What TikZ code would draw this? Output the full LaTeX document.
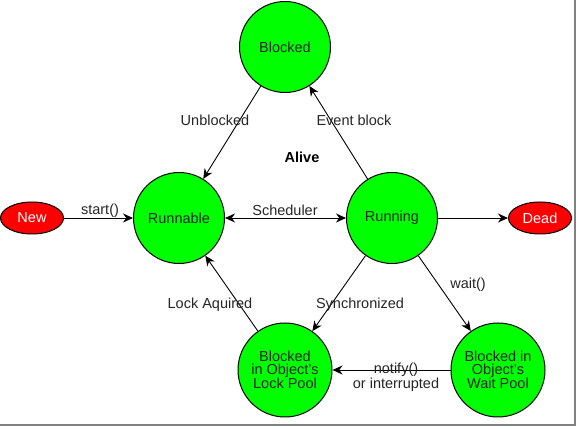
\documentclass[tikz,border=0pt]{standalone}
\usepackage{fontspec}
\setmainfont{Liberation Sans}
\usetikzlibrary{arrows.meta,shapes.geometric}
\begin{document}
\begin{tikzpicture}[x=1pt,y=-1pt,
  every node/.style={font=\fontsize{14.5}{13}\selectfont},
  state/.style={circle,draw=black,line width=1pt,fill=green,minimum size=91pt,inner sep=0pt,align=center,text=black!85},
  endstate/.style={ellipse,draw=black,line width=1pt,fill=red,minimum width=63pt,minimum height=32pt,inner sep=0pt,text=white},
  conn/.style={draw=black,line width=0.9pt,-{Stealth[length=10pt,width=9pt]}},
  lbl/.style={fill=none,text=black!85,inner sep=1pt}]
\useasboundingbox (0,0) rectangle (579,430);
\fill[white] (0,0) rectangle (579,430);
\draw[gray,line width=1.5pt] (575,0) -- (575,425) -- (0,425);
\node[state] (blocked) at (285,47) {Blocked};
\node[state] (runnable) at (179,218) {Runnable};
\node[state] (running) at (392,218) {Running};
\node[state,minimum size=94pt] (lock) at (285,370) {Blocked\\in Object's\\Lock Pool};
\node[state,minimum size=94pt] (wait) at (498,370) {Blocked in\\Object's\\Wait Pool};
\node[endstate] (new) at (32,218) {New};
\node[endstate] (dead) at (540,218) {Dead};
\node[font=\fontsize{14.5}{13}\selectfont\bfseries] (alive) at (302,157) {Alive};
\draw[conn] (new) -- (runnable);
\node[lbl] (lstart) at (100,211) {start()};
\draw[conn,{Stealth[length=10pt,width=9pt]}-{Stealth[length=10pt,width=9pt]}] (runnable) -- (running);
\node[lbl] (lsched) at (285,210) {Scheduler};
\draw[conn] (running) -- (dead);
\draw[conn] (blocked) -- (runnable);
\node[lbl] (lunb) at (215,120) {Unblocked};
\draw[conn] (running) -- (blocked);
\node[lbl] (levt) at (354,120) {Event block};
\draw[conn] (running) -- (lock);
\node[lbl] (lsync) at (360,305) {Synchronized};
\draw[conn] (running) -- (wait);
\node[lbl] (lwait) at (468,285) {wait()};
\draw[conn] (wait) -- (lock);
\node[lbl,align=center] (lnotify) at (396,377) {notify()\\or interrupted};
\draw[conn] (lock) -- (runnable);
\node[lbl] (llock) at (210,305) {Lock Aquired};
\end{tikzpicture}
\end{document}
